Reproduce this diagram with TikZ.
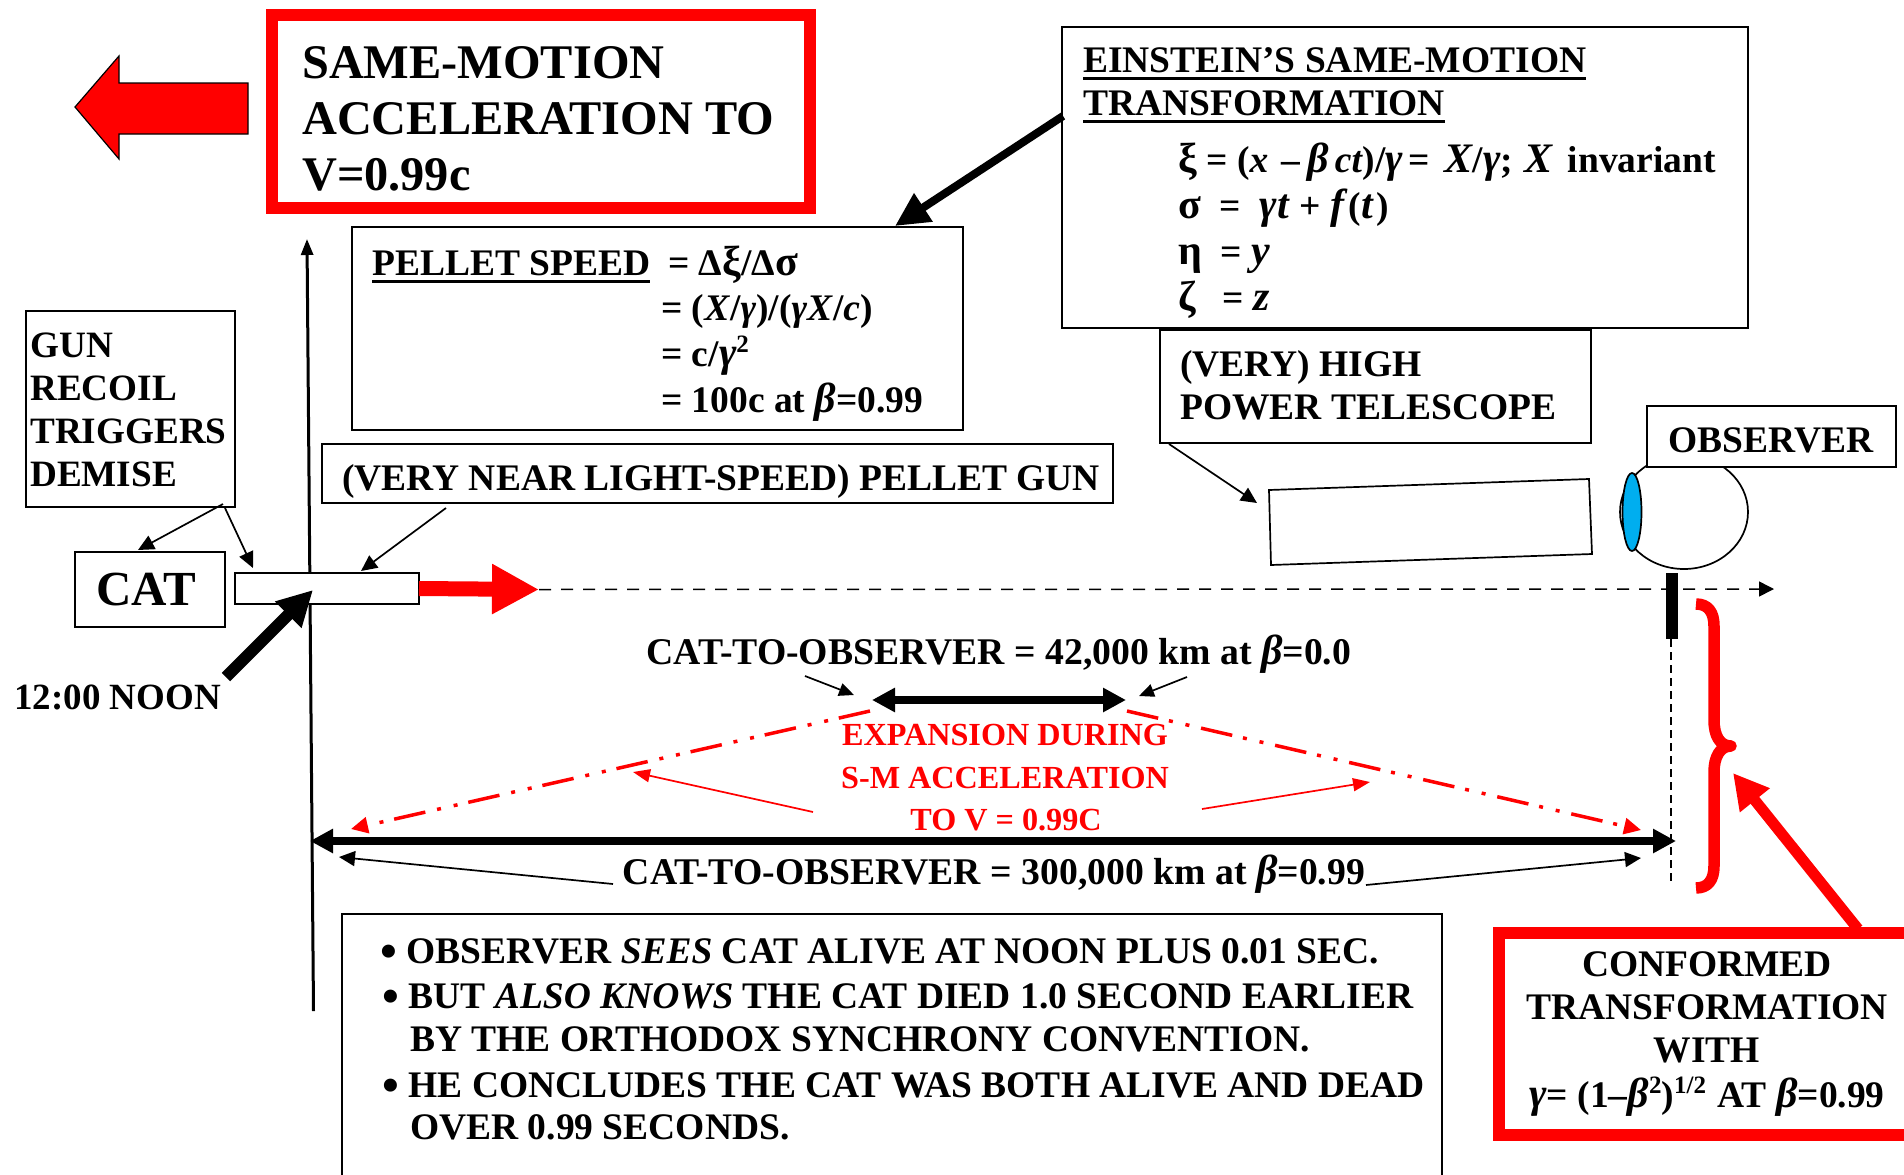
\documentclass[tikz,border=0pt]{standalone}
\usepackage{fontspec}
\setmainfont{Liberation Serif}
\usetikzlibrary{arrows.meta, positioning}
\definecolor{lensblue}{HTML}{00AEEF}
\definecolor{sigred}{HTML}{FF0000}
\newcommand{\ital}[1]{\textit{#1}}
\newcommand{\bigit}[1]{\textit{\fontsize{42}{43}\selectfont #1}}
\newcommand{\bigup}[1]{{\fontsize{42}{43}\selectfont #1}}
\newcommand{\ulbar}[1]{\leavevmode\vtop{\hbox{#1}\kern 4.5pt\hrule height 3.5pt}}
\newcommand{\supr}[1]{\raisebox{13.5pt}{\fontsize{25}{25}\selectfont #1}}
\newcommand{\notedot}{\raisebox{-4pt}{\fontsize{48}{43}\selectfont •}\kern9.5pt}

\tikzset{
  lbl/.style={font=\fontsize{37.5}{43}\selectfont\bfseries, inner sep=0pt, anchor=base west, align=left},
  lblmid/.style={font=\fontsize{37.5}{43}\selectfont\bfseries, inner sep=0pt, anchor=base, align=center},
  redlbl/.style={font=\fontsize{32.2}{42.5}\selectfont\bfseries, text=sigred, inner sep=0pt, anchor=base},
  plainbox/.style={draw=black, fill=white, line width=1.7pt, inner sep=0pt, outer sep=0pt, anchor=north west},
  redbox/.style={draw=sigred, fill=white, line width=11.5pt, inner sep=0pt, outer sep=0pt, anchor=north west},
  thin tip/.style={line width=1.7pt, -{Triangle[length=16pt, width=15pt]}},
  thick both/.style={line width=8pt, {Triangle[length=23pt, width=23pt]}-{Triangle[length=23pt, width=23pt]}},
  expansion/.style={sigred, line width=3.5pt, dash pattern=on 32pt off 11pt on 4pt off 13pt on 4pt off 12pt,
    -{Triangle[length=17pt, width=16pt, sep=0pt]}},
}

\begin{document}
\begin{tikzpicture}[x=1pt, y=-1pt]

\useasboundingbox (0,0) rectangle (1904,1175);
\clip (0,0) rectangle (1904,1175);

% ========== Top left: acceleration ==========
\draw[black, fill=sigred, line width=1.2pt] (75,107) -- (119,56) -- (119,83) -- (248,83) -- (248,134) -- (119,134) -- (119,159) -- cycle;
\node[redbox, minimum width=538pt, minimum height=193pt] (accelbox) at (272,15) {};
\node[lbl, font=\fontsize{48.3}{56}\selectfont\bfseries] (acceltext) at (302,190) {SAME-MOTION\\ACCELERATION TO\\V=0.99c};

% ========== Time axis ==========
\coordinate (axistop) at (307,239);
\coordinate (axisfoot) at (313.5,1011);
\draw[line width=3pt, -{Triangle[length=16pt, width=12pt]}] (axisfoot) -- (axistop);

% ========== Einstein box ==========
\node[plainbox, minimum width=686pt, minimum height=301pt] (einstein) at (1062,27) {};
\node[lbl] (einsteinhead) at (1083,115) {\ulbar{EINSTEIN’S SAME-MOTION}\\\ulbar{TRANSFORMATION}};
\node[lbl] (xiline) at (1178,172) {\bigup{ξ} = (\ital{x}\kern13pt –\kern-2pt\ \bigit{β}\kern6pt\ital{ct})/\bigit{γ}\kern5pt= \kern5pt\bigit{X}/\bigit{γ}; \kern2pt\bigit{X}\kern5pt\ invariant};
\node[lbl] (sigmaline) at (1178,218) {\bigup{σ}\ \ =\ \ \bigit{γt} + \bigit{f}\kern1pt(\bigit{t}\kern3pt)};
\node[lbl] (etaline) at (1178,264) {\bigup{η}\ \ = \bigit{y}};
\node[lbl] (zetaline) at (1178,310) {\bigup{ζ}\kern27pt = \bigit{z}};

% ========== Pellet speed box ==========
\node[plainbox, minimum width=611pt, minimum height=203pt] (pelletbox) at (352,227) {};
\node[lbl] (pellethead) at (372,275) {\ulbar{PELLET SPEED}};
\node[lbl] (speedA) at (668,275) {= Δ\bigup{ξ}/Δ\bigup{σ}};
\node[lbl] (speedB) at (661,320) {= (\ital{X}/\ital{γ})/(\ital{γX}/\ital{c})};
\node[lbl] (speedC) at (661,366) {= c/\bigit{γ}\supr{2}};
\node[lbl] (speedD) at (661,412) {= 100c at \bigit{β}=0.99};
\coordinate (einsteinfoot) at (1063,116);
\coordinate (pelletnotch) at (895,226);
\draw[line width=8pt, -{Triangle[length=34pt, width=32pt]}] (einsteinfoot) -- (pelletnotch);

% ========== Gun and cat ==========
\node[plainbox, minimum width=209pt, minimum height=196pt] (gunbox) at (26,311) {};
\node[lbl, font=\fontsize{37.2}{43}\selectfont\bfseries] (guntext) at (30,486) {GUN\\RECOIL\\TRIGGERS\\DEMISE};
\node[plainbox, minimum width=791pt, minimum height=59pt] (pelletgun) at (322,444) {};
\node[lbl] (pelletguntext) at (342,490) {(VERY NEAR LIGHT-SPEED) PELLET GUN};
\node[plainbox, font=\fontsize{49}{56}\selectfont\bfseries, minimum width=150pt, minimum height=75pt] (cat) at (75,552) {\raisebox{-2.5pt}{CAT}\kern7pt};
\node[plainbox, minimum width=184pt, minimum height=31pt] (gun) at (235,573) {};
\coordinate (gunfootA) at (223,504);
\coordinate (gunfootB) at (225,508);
\coordinate (catnotch) at (138,550);
\coordinate (gunnotchA) at (253,568);
\coordinate (pelletfoot) at (446,508);
\coordinate (gunnotchB) at (361,571);
\draw[thin tip] (gunfootA) -- (catnotch);
\draw[thin tip] (gunfootB) -- (gunnotchA);
\draw[thin tip] (pelletfoot) -- (gunnotchB);

% Recoil and pellet
\coordinate (noonfoot) at (226,677);
\coordinate (noontip) at (313,590);
\draw[line width=12pt, -{Triangle[length=35pt, width=35pt]}] (noonfoot) -- (noontip);
\node[lbl, font=\fontsize{37}{43}\selectfont\bfseries] (noon) at (14,709) {12:00 NOON};
\coordinate (pellettip) at (539,589.5);
\draw[sigred, line width=15pt, -{Triangle[length=47pt, width=47pt]}] (gun.east) -- (pellettip);
\coordinate (rayend) at (1774,589);
\draw[line width=1.5pt, dash pattern=on 12pt off 10pt, -{Triangle[length=15pt, width=15pt]}] (pellettip) -- (rayend);

% ========== Telescope and observer ==========
\node[plainbox, minimum width=431pt, minimum height=113pt] (scopebox) at (1160,330) {};
\node[lbl] (scopetext) at (1180,419) {(VERY) HIGH\\POWER TELESCOPE};
\draw[line width=1.7pt, fill=white] (1269,490) -- (1589,479) -- (1592,554) -- (1271,565) -- cycle;
\coordinate (scopefoot) at (1169,444);
\coordinate (scopenotch) at (1257,503);
\draw[thin tip] (scopefoot) -- (scopenotch);
\draw[line width=1.7pt] (1684,512) ellipse (64 and 57);
\draw[line width=1.7pt, fill=lensblue] (1632,512) ellipse (9.5 and 39);
\node[plainbox, minimum width=249pt, minimum height=61pt] (observer) at (1647,406) {};
\node[lbl] (observertext) at (1668,452) {OBSERVER};
\fill (1666,573) rectangle (1678,639);
\coordinate (plumbtop) at (1671,639);
\coordinate (plumbfoot) at (1671,883);
\draw[line width=1.5pt, dash pattern=on 8pt off 5pt] (plumbtop) -- (plumbfoot);

% ========== Distances ==========
\node[lblmid, font=\fontsize{37.7}{43}\selectfont\bfseries] (nearlbl) at (999,664) {CAT-TO-OBSERVER = 42,000 km at \bigit{β}=0.0};
\coordinate (nearleft) at (872,700);
\coordinate (nearright) at (1126,700);
\draw[thick both] (nearleft) -- (nearright);
\coordinate (nearfootA) at (805,676);
\coordinate (nearnotchA) at (854,695);
\coordinate (nearfootB) at (1187,677);
\coordinate (nearnotchB) at (1139,696);
\draw[line width=1.7pt, -{Triangle[length=15pt, width=13pt]}] (nearfootA) -- (nearnotchA);
\draw[line width=1.7pt, -{Triangle[length=15pt, width=13pt]}] (nearfootB) -- (nearnotchB);

\coordinate (spreadA) at (870,711);
\coordinate (spreadtipA) at (351,829);
\coordinate (spreadB) at (1127,711);
\coordinate (spreadtipB) at (1641,830);
\draw[expansion] (spreadA) -- (spreadtipA);
\draw[expansion] (spreadB) -- (spreadtipB);

\node[redlbl] (expA) at (1005,745) {EXPANSION DURING};
\node[redlbl] (expB) at (1005,788) {S-M ACCELERATION};
\node[redlbl] (expC) at (1006,830) {TO V = 0.99C};
\coordinate (slantfootA) at (813,812);
\coordinate (slanttipA) at (633,772);
\coordinate (slantfootB) at (1202,809);
\coordinate (slanttipB) at (1370,782);
\draw[sigred, line width=1.7pt, -{Triangle[length=17pt, width=13pt]}] (slantfootA) -- (slanttipA);
\draw[sigred, line width=1.7pt, -{Triangle[length=17pt, width=13pt]}] (slantfootB) -- (slanttipB);

\coordinate (farleft) at (310,841);
\coordinate (farright) at (1676,841);
\draw[thick both] (farleft) -- (farright);
\node[lblmid, font=\fontsize{37.7}{43}\selectfont\bfseries] (farlbl) at (994,884) {CAT-TO-OBSERVER = 300,000 km at \bigit{β}=0.99};
\coordinate (farfootA) at (613,884);
\coordinate (farnotchA) at (339,857);
\coordinate (farfootB) at (1366,885);
\coordinate (farnotchB) at (1641,858);
\draw[thin tip] (farfootA) -- (farnotchA);
\draw[thin tip] (farfootB) -- (farnotchB);

% ========== Brace and conformed box ==========
\draw[sigred, line width=11.5pt, line join=round] (1696,604) .. controls (1708,604) and (1714,612) .. (1714,626)
  -- (1714,720) .. controls (1714,736) and (1720,746) .. (1731,746)
  .. controls (1720,746) and (1714,757) .. (1714,772)
  -- (1714,866) .. controls (1714,880) and (1708,888) .. (1696,888);
\node[redbox, minimum width=460pt, minimum height=202pt] (conformed) at (1499,933) {};
\coordinate (bracetip) at (1733,773);
\coordinate (bracefoot) at (1858,929);
\draw[sigred, line width=11pt, -{Triangle[length=35pt, width=36pt]}] (bracefoot) -- (bracetip);
\node[lblmid] (conformedtext) at (1707,1062.5) {CONFORMED\\TRANSFORMATION\\WITH};
\node[lblmid] (gammaline) at (1707,1107) {\bigit{γ}= (1–\bigit{β}\supr{2})\supr{1/2}\kern2pt\ AT \bigit{β}=0.99};

% ========== Conclusions ==========
\node[plainbox, minimum width=1100pt, minimum height=300pt] (notes) at (342,914) {};
\node[lbl] (noteA) at (380,963) {\notedot OBSERVER \ital{SEES} CAT ALIVE AT NOON PLUS 0.01 SEC.};
\node[lbl] (noteB) at (382,1008) {\notedot BUT \ital{ALSO KNOWS} THE CAT DIED 1.0 SECOND EARLIER};
\node[lbl] (noteC) at (410,1051) {BY THE ORTHODOX SYNCHRONY CONVENTION.};
\node[lbl] (noteD) at (382,1097) {\notedot HE CONCLUDES THE CAT WAS BOTH ALIVE AND DEAD};
\node[lbl] (noteE) at (410,1139) {OVER 0.99 SECONDS.};

\end{tikzpicture}
\end{document}
